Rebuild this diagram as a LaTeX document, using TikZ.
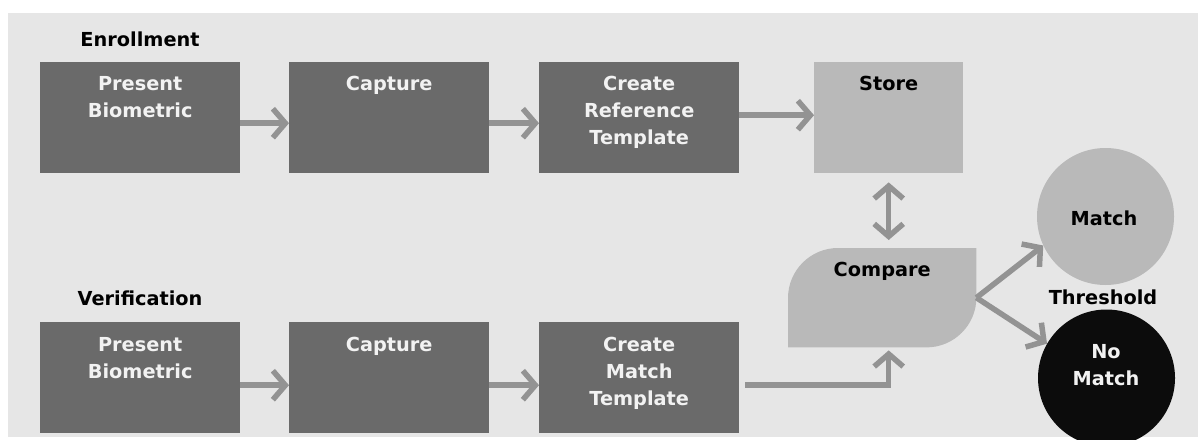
\documentclass[tikz,border=0pt]{standalone}
\usepackage{fontspec}
\setmainfont{DejaVu Sans}
\usetikzlibrary{arrows.meta,calc}

\definecolor{canvasgray}{HTML}{E6E6E6}
\definecolor{boxdark}{HTML}{6A6A6A}
\definecolor{boxlight}{HTML}{B9B9B9}
\definecolor{arrowgray}{HTML}{939393}
\definecolor{nomatch}{HTML}{0C0C0C}
\definecolor{paletext}{HTML}{F2F2F2}

\begin{document}
\begin{tikzpicture}[x=1pt,y=-1pt,
  stepbox/.style={fill=boxdark, inner sep=0pt, anchor=north west,
    minimum width=200pt, minimum height=111pt},
  storebox/.style={fill=boxlight, inner sep=0pt, anchor=north west,
    minimum width=149pt, minimum height=111pt},
  blank/.style={inner sep=0pt, anchor=north west},
  txt/.style={inner sep=0pt, align=center,
    font=\fontsize{19.3}{27}\selectfont\bfseries},
  wtxt/.style={txt, text=paletext},
  btxt/.style={txt, text=black},
  tip/.tip={Straight Barb[length=12.5pt, width=29pt]},
  arr/.style={draw=arrowgray, line width=5.5pt, -tip},
  outcome/.style={circle, inner sep=0pt, minimum size=137pt}
]
% page and canvas
\useasboundingbox (0,0) rectangle (1198,439);
\fill[white] (0,0) rectangle (1198,439);
\fill[canvasgray] (8,13) rectangle (1198,437);

% enrollment row
\node[btxt] (enroll) at (140,39) {Enrollment};
\node[stepbox] (e1) at (40,62) {};
\node[stepbox] (e2) at (289,62) {};
\node[stepbox] (e3) at (539,62) {};
\node[storebox] (st) at (814,62) {};
\node[wtxt, anchor=north] (e1t) at ($(e1.north)+(0,14)$) {Present\\Biometric};
\node[wtxt, anchor=north] (e2t) at ($(e2.north)+(0,14)$) {Capture};
\node[wtxt, anchor=north] (e3t) at ($(e3.north)+(0,14)$) {Create\\Reference\\Template};
\node[btxt, anchor=north] (stt) at ($(st.north)+(0,14)$) {Store};

% verification row
\node[btxt] (verif) at (140,298) {Verification};
\node[stepbox] (v1) at (40,322) {};
\node[stepbox] (v2) at (289,322) {};
\node[stepbox] (v3) at (539,322) {};
\node[wtxt, anchor=north] (v1t) at ($(v1.north)+(0,15)$) {Present\\Biometric};
\node[wtxt, anchor=north] (v2t) at ($(v2.north)+(0,15)$) {Capture};
\node[wtxt, anchor=north] (v3t) at ($(v3.north)+(0,15)$) {Create\\Match\\Template};

% compare: leaf-shaped box with two rounded corners
\node[blank, minimum width=188pt, minimum height=99pt] (cmp) at (788,248) {};
\fill[boxlight] (cmp.south west) -- ($(cmp.north west)+(0,50)$)
  .. controls ($(cmp.north west)+(0,22.4)$) and ($(cmp.north west)+(22.4,0)$) ..
  ($(cmp.north west)+(50,0)$) -- (cmp.north east) -- ($(cmp.south east)+(0,-50)$)
  .. controls ($(cmp.south east)+(0,-22.4)$) and ($(cmp.south east)+(-22.4,0)$) ..
  ($(cmp.south east)+(-50,0)$) -- cycle;
\node[btxt, anchor=north] (cmpt) at ($(cmp.north)+(0,14)$) {Compare};

% outcomes
\node[outcome, fill=boxlight] (mt) at (1105.5,216.5) {};
\node[btxt] (mtt) at (1104,218) {Match};
\node[btxt] (thr) at (1103,297) {Threshold};
\node[outcome, fill=nomatch] (nm) at (1106.5,378) {};
\node[wtxt] (nmt) at (1106,365) {No\\Match};

% connectors
\draw[arr] ([yshift=-5.5pt]e1.east) -- ([yshift=-5.5pt]e2.west);
\draw[arr] ([yshift=-5.5pt]e2.east) -- ([yshift=-5.5pt]e3.west);
\draw[arr] ([yshift=2.5pt]e3.east) -- ([yshift=2.5pt]st.west);
\draw[arr] ([yshift=-7.5pt]v1.east) -- ([yshift=-7.5pt]v2.west);
\draw[arr] ([yshift=-7.5pt]v2.east) -- ([yshift=-7.5pt]v3.west);
\draw[arr] ([yshift=-7.5pt,xshift=6pt]v3.east) -| ([yshift=-3pt]st.south |- cmp.south);
\draw[arr, tip-tip, shorten <=9pt, shorten >=8pt] (st.south) -- (st.south |- cmp.north);
\draw[arr] (cmp.east) -- (mt.205);
\draw[arr] (cmp.east) -- (nm.150);
\end{tikzpicture}
\end{document}
